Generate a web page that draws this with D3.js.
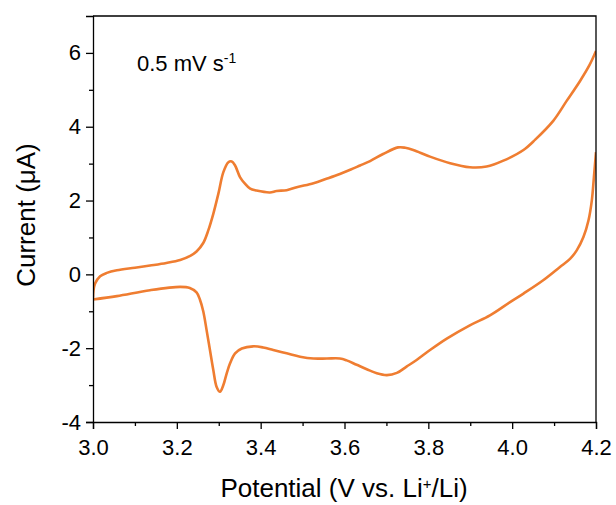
<!DOCTYPE html>
<html>
<head>
<meta charset="utf-8">
<script src="https://cdn.jsdelivr.net/npm/d3@7"></script>
<style>
  body { margin: 0; background: #fff; }
  svg { font-family: "Liberation Sans", Arial, sans-serif; }
</style>
</head>
<body>
<svg id="cv" width="616" height="505"></svg>
<script>
// anodic sweep, 3.0 -> 4.2 V
var anodicV = [3.000, 3.001, 3.005, 3.017, 3.033, 3.057, 3.100, 3.136, 3.175, 3.208,
               3.232, 3.247, 3.263, 3.275, 3.287, 3.299, 3.311, 3.323, 3.331, 3.339,
               3.351, 3.363, 3.375, 3.390, 3.422, 3.438, 3.462, 3.486, 3.526, 3.557,
               3.589, 3.615, 3.637, 3.661, 3.692, 3.728, 3.745, 3.764, 3.804, 3.852,
               3.899, 3.939, 3.979, 4.027, 4.055, 4.098, 4.130, 4.162, 4.185, 4.200];
var anodicI = [-0.66, -0.45, -0.25, -0.05, 0.04, 0.11, 0.18, 0.24, 0.31, 0.39,
               0.50, 0.62, 0.85, 1.19, 1.64, 2.18, 2.77, 3.04, 3.06, 2.95,
               2.63, 2.45, 2.32, 2.27, 2.22, 2.26, 2.28, 2.36, 2.47, 2.59,
               2.72, 2.84, 2.95, 3.07, 3.26, 3.44, 3.43, 3.37, 3.19, 3.01,
               2.90, 2.92, 3.08, 3.37, 3.65, 4.16, 4.70, 5.24, 5.68, 6.05];
// cathodic sweep, 4.2 -> 3.0 V
var cathodicV = [4.200, 4.195, 4.190, 4.182, 4.170, 4.154, 4.138, 4.114, 4.074, 4.027,
                 3.995, 3.947, 3.899, 3.844, 3.804, 3.772, 3.748, 3.725, 3.701, 3.677,
                 3.653, 3.629, 3.605, 3.589, 3.558, 3.526, 3.494, 3.462, 3.430, 3.406,
                 3.382, 3.355, 3.339, 3.327, 3.319, 3.311, 3.303, 3.295, 3.287, 3.279,
                 3.271, 3.263, 3.255, 3.247, 3.231, 3.208, 3.136, 3.057, 3.000];
var cathodicI = [3.31, 2.63, 2.00, 1.46, 1.01, 0.65, 0.42, 0.20, -0.16, -0.52,
                 -0.75, -1.11, -1.38, -1.74, -2.05, -2.32, -2.50, -2.67, -2.73, -2.68,
                 -2.57, -2.45, -2.33, -2.28, -2.28, -2.28, -2.23, -2.14, -2.05, -1.98,
                 -1.95, -2.01, -2.14, -2.41, -2.68, -3.00, -3.18, -3.05, -2.59, -2.05,
                 -1.51, -1.00, -0.68, -0.49, -0.37, -0.34, -0.43, -0.59, -0.68];

var xTicks = [3.0, 3.2, 3.4, 3.6, 3.8, 4.0, 4.2];
var yTicks = [-4, -2, 0, 2, 4, 6];
var xMinor = [3.1, 3.3, 3.5, 3.7, 3.9, 4.1];
var yMinor = [-3, -1, 1, 3, 5];

var svg = d3.select("#cv");
var margin = {left: 93, right: 20, top: 16, bottom: 83};
var width = 616 - margin.left - margin.right;
var height = 505 - margin.top - margin.bottom;
var g = svg.append("g").attr("transform", "translate(" + margin.left + "," + margin.top + ")");

var x = d3.scaleLinear().domain([3.0, 4.2]).range([0, width]);
var y = d3.scaleLinear().domain([-4, 7]).range([height, 0]);

var line = d3.line()
    .x(d => x(d[0]))
    .y(d => y(d[1]))
    .curve(d3.curveCatmullRom.alpha(0.5));

var branches = [d3.zip(anodicV, anodicI), d3.zip(cathodicV, cathodicI)];

g.append("clipPath").attr("id", "clip")
    .append("rect").attr("width", width).attr("height", height);

g.selectAll(".cv")
    .data(branches)
    .enter().append("path")
    .attr("class", "cv")
    .attr("clip-path", "url(#clip)")
    .attr("d", line)
    .attr("fill", "none")
    .attr("stroke", "#ef7d31")
    .attr("stroke-width", 2.6)
    .attr("stroke-linejoin", "round");

g.append("g").attr("transform", "translate(0," + height + ")")
    .call(d3.axisBottom(x).tickValues(xTicks).tickFormat(d3.format(".1f")).tickSize(7).tickPadding(10));
g.append("g").attr("transform", "translate(0," + height + ")")
    .call(d3.axisBottom(x).tickValues(xMinor).tickFormat("").tickSize(4))
    .select(".domain").remove();

g.append("g")
    .call(d3.axisLeft(y).tickValues(yTicks).tickFormat(d => d).tickSize(7).tickPadding(5));
g.append("g")
    .call(d3.axisLeft(y).tickValues(yMinor).tickFormat("").tickSize(4))
    .select(".domain").remove();

g.selectAll(".tick text").attr("font-size", 22).attr("fill", "#000")
    .attr("font-family", "Liberation Sans, Arial, sans-serif");
g.selectAll(".tick line").attr("stroke", "#000").attr("stroke-width", 1.3);
g.selectAll(".domain").attr("stroke", "#000").attr("stroke-width", 1.3);

// frame top/right
g.append("path")
    .attr("d", "M0,0H" + width + "V" + height)
    .attr("fill", "none")
    .attr("stroke", "#000")
    .attr("stroke-width", 1.3);

svg.append("text")
    .attr("x", 344)
    .attr("y", 497)
    .attr("text-anchor", "middle")
    .attr("font-size", 26)
    .html('Potential (V vs. Li<tspan baseline-shift="super" font-size="15">+</tspan>/Li)');

svg.append("text")
    .attr("transform", "translate(35,215) rotate(-90)")
    .attr("text-anchor", "middle")
    .attr("font-size", 26)
    .text("Current (\u03bcA)");

svg.append("text")
    .attr("x", 137)
    .attr("y", 71)
    .attr("font-size", 22)
    .html('0.5 mV s<tspan baseline-shift="super" font-size="14">-1</tspan>');
</script>
</body>
</html>
